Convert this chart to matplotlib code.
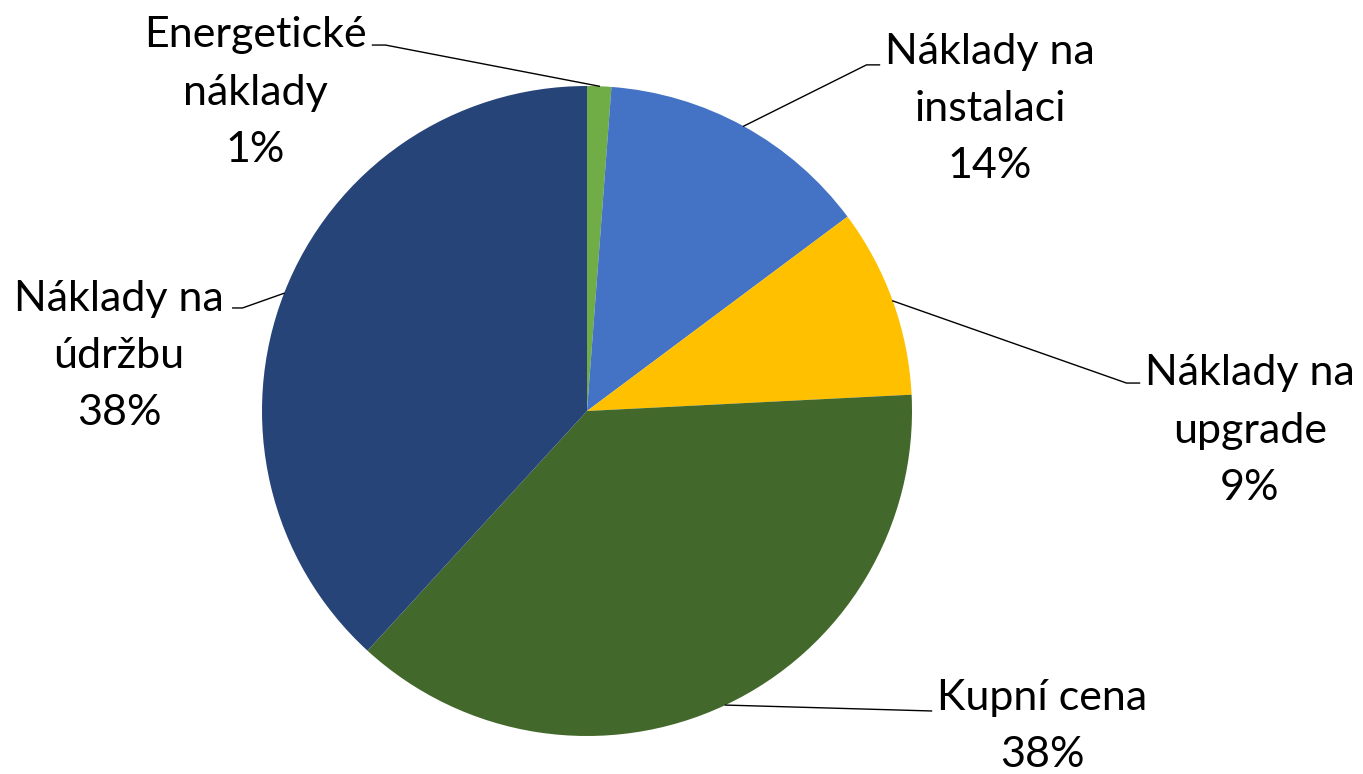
import matplotlib.pyplot as plt
import numpy as np

# Data
categories = ['Energetické\nnáklady', 'Náklady na\ninstalaci', 'Náklady na\nupgrade',
              'Kupní cena', 'Náklady na\núdržbu']
shares = [1.2, 13.6, 9.4, 37.6, 38.2]
colors = ['#70AD47', '#4472C4', '#FFC000', '#43682B', '#264478']

# Label layout (data units, pie radius = 1) and the leader line bends
label_pos = [(-1.02, 0.98), (1.24, 0.93), (2.04, -0.06), (1.40, -0.97), (-1.44, 0.17)]
knee_pos = [(-0.62, 1.126), (0.86, 1.065), (1.66, 0.086), (1.06, -0.923), (-1.06, 0.317)]
end_pos = [(-0.66, 1.126), (0.90, 1.065), (1.70, 0.086), (1.06, -0.923), (-1.09, 0.317)]

plt.rcParams['font.family'] = ['Lato', 'DejaVu Sans']

W, H = 1363, 774
cx, cy, r = 587, 411, 325
fig = plt.figure(figsize=(W / 100, H / 100), dpi=100)
ax = fig.add_axes([0, 0, 1, 1])

wedges, _ = ax.pie(shares, colors=colors, startangle=90, counterclock=False,
                   radius=1, center=(0, 0), wedgeprops=dict(linewidth=0))

total = sum(shares)
for i, w in enumerate(wedges):
    mid = np.deg2rad((w.theta1 + w.theta2) / 2)
    px, py = np.cos(mid), np.sin(mid)
    kx, ky = knee_pos[i]
    ex, ey = end_pos[i]
    ax.plot([px, kx, ex], [py, ky, ey], color='black', lw=1)
    pct = f'{round(shares[i] / total * 100):.0f}%'
    ax.text(label_pos[i][0], label_pos[i][1], categories[i] + '\n' + pct,
            ha='center', va='center', fontsize=31, linespacing=1.62)

ax.set_xlim(-cx / r, (W - cx) / r)
ax.set_ylim(-(H - cy) / r, cy / r)
ax.set_aspect('auto')
ax.axis('off')

plt.savefig('out.png', dpi=100)
